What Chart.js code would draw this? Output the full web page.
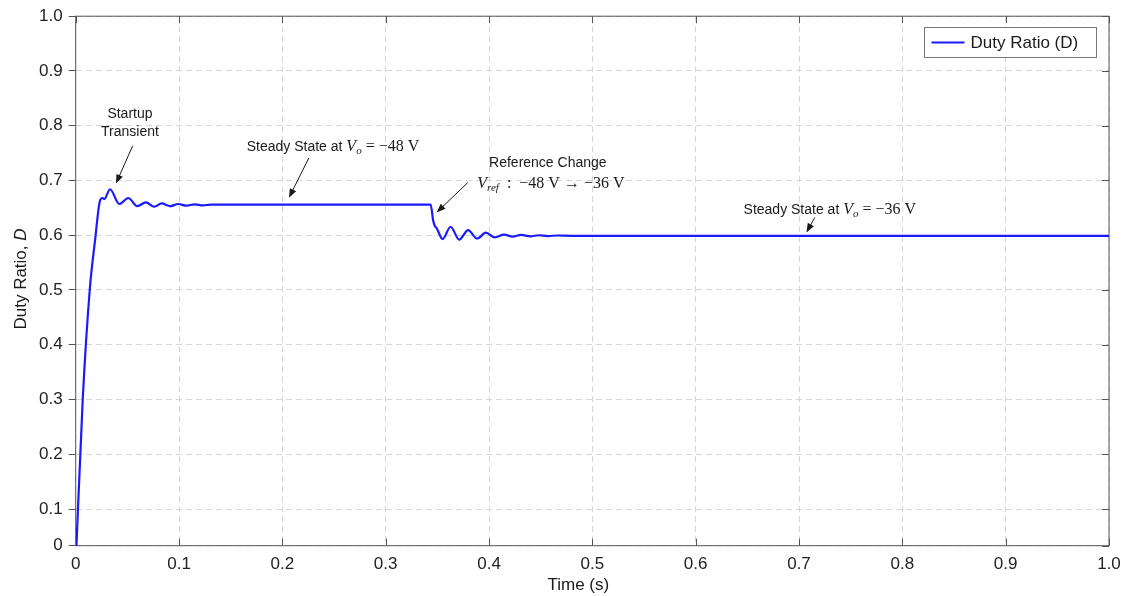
<!DOCTYPE html>
<html>
<head>
<meta charset="utf-8">
<script src="https://cdn.jsdelivr.net/npm/chart.js@4.4.1/dist/chart.umd.min.js"></script>
<style>
html, body { margin: 0; padding: 0; background: #fff; }
#wrap { width: 1131px; height: 596px; position: relative; }
</style>
</head>
<body>
<div id="wrap"><canvas id="duty"></canvas></div>
<script>
// time (s) and duty ratio
var timeS = [0, 0.0068, 0.0138, 0.0187, 0.0235, 0.0261, 0.0277, 0.0332, 0.0422, 0.0509, 0.0596,
  0.068, 0.076, 0.0832, 0.0912, 0.0993, 0.107, 0.115, 0.123, 0.131, 0.14, 0.3435,
  0.346, 0.3476, 0.3493, 0.3551, 0.3628, 0.3711, 0.3798, 0.3885, 0.397, 0.4057, 0.4144,
  0.423, 0.431, 0.44, 0.448, 0.457, 0.466, 0.48, 1.0];
var dutyD = [0, 0.30, 0.505, 0.59, 0.663, 0.668, 0.666, 0.684, 0.657, 0.668, 0.653,
  0.660, 0.652, 0.658, 0.653, 0.657, 0.654, 0.6565, 0.6545, 0.656, 0.656, 0.656,
  0.6265, 0.617, 0.613, 0.593, 0.6155, 0.592, 0.6095, 0.594, 0.6046, 0.596, 0.601,
  0.5975, 0.6005, 0.598, 0.6, 0.5985, 0.5995, 0.599, 0.599];

var xTicks = [0, 0.1, 0.2, 0.3, 0.4, 0.5, 0.6, 0.7, 0.8, 0.9, 1.0];
var yTicks = [0, 0.1, 0.2, 0.3, 0.4, 0.5, 0.6, 0.7, 0.8, 0.9, 1.0];
var yFloor = 0.033; // where the "0" tick sits in the picture

var FONTS = {
  sans: '14px "Liberation Sans", Arial, sans-serif',
  m: '16px "Liberation Serif", serif',
  mi: 'italic 16px "Liberation Serif", serif',
  sub: 'italic 11px "Liberation Serif", serif'
};

// annotations: text centre (t, v) + arrow tail/head in data units
var notes = [
  { t: 0.0525, v: 0.8214, segs: [['Startup', 'sans']] },
  { t: 0.0525, v: 0.7886, segs: [['Transient', 'sans']], arrow: [0.0551, 0.7631, 0.039, 0.6944] },
  { t: 0.249, v: 0.7613, segs: [['Steady State at ', 'sans'], ['V', 'mi'], ['o', 'sub', 4], [' = \u221248 V', 'm']],
    arrow: [0.2257, 0.7413, 0.2064, 0.6684] },
  { t: 0.4569, v: 0.7309, segs: [['Reference Change', 'sans']] },
  { t: 0.4599, v: 0.6933, segs: [['V', 'mi'], ['ref', 'sub', 4], ['  :  \u221248 V \u2192 \u221236 V', 'm']],
    arrow: [0.3795, 0.6962, 0.3493, 0.6416] },
  { t: 0.7298, v: 0.6465, segs: [['Steady State at ', 'sans'], ['V', 'mi'], ['o', 'sub', 4], [' = \u221236 V', 'm']],
    arrow: [0.7153, 0.6325, 0.7072, 0.6051] }
];

function drawRich(ctx, segs, cx, cy) {
  var w = 0;
  segs.forEach(function (s) { ctx.font = FONTS[s[1]]; w += ctx.measureText(s[0]).width; });
  var x = cx - w / 2;
  ctx.textAlign = 'left';
  ctx.textBaseline = 'middle';
  segs.forEach(function (s) {
    ctx.font = FONTS[s[1]];
    ctx.fillText(s[0], x, cy + (s[2] || 0));
    x += ctx.measureText(s[0]).width;
  });
}

function drawArrow(ctx, x1, y1, x2, y2) {
  var a = Math.atan2(y2 - y1, x2 - x1), L = 9, W = 3.5;
  ctx.beginPath();
  ctx.moveTo(x1, y1);
  ctx.lineTo(x2 - L * 0.7 * Math.cos(a), y2 - L * 0.7 * Math.sin(a));
  ctx.stroke();
  ctx.beginPath();
  ctx.moveTo(x2, y2);
  ctx.lineTo(x2 - L * Math.cos(a) + W * Math.sin(a), y2 - L * Math.sin(a) - W * Math.cos(a));
  ctx.lineTo(x2 - L * Math.cos(a) - W * Math.sin(a), y2 - L * Math.sin(a) + W * Math.cos(a));
  ctx.closePath();
  ctx.fill();
}

var frame = {
  id: 'frame',
  beforeDatasetsDraw: function (chart) {
    var ctx = chart.ctx, a = chart.chartArea, xs = chart.scales.x, ys = chart.scales.y;
    ctx.save();
    ctx.strokeStyle = '#555';
    ctx.lineWidth = 1;
    ctx.strokeRect(a.left, a.top, a.right - a.left, a.bottom - a.top);
    ctx.beginPath();
    xTicks.forEach(function (t) {
      var px = Math.round(xs.getPixelForValue(t)) + 0.5;
      ctx.moveTo(px, a.bottom); ctx.lineTo(px, a.bottom - 7);
      ctx.moveTo(px, a.top); ctx.lineTo(px, a.top + 7);
    });
    yTicks.forEach(function (v) {
      var py = Math.round(ys.getPixelForValue(Math.max(v, yFloor))) + 0.5;
      ctx.moveTo(a.right, py); ctx.lineTo(a.right - 7, py);
    });
    ctx.stroke();
    ctx.restore();
  },
  afterDraw: function (chart) {
    var ctx = chart.ctx, a = chart.chartArea, xs = chart.scales.x, ys = chart.scales.y;
    ctx.save();
    ctx.fillStyle = '#1a1a1a';
    ctx.strokeStyle = '#1a1a1a';
    ctx.lineWidth = 1;
    notes.forEach(function (n) {
      drawRich(ctx, n.segs, xs.getPixelForValue(n.t), ys.getPixelForValue(n.v));
      if (n.arrow) {
        drawArrow(ctx, xs.getPixelForValue(n.arrow[0]), ys.getPixelForValue(n.arrow[1]),
          xs.getPixelForValue(n.arrow[2]), ys.getPixelForValue(n.arrow[3]));
      }
    });

    // axis titles
    ctx.fillStyle = '#1a1a1a';
    ctx.font = '17px "Liberation Sans", Arial, sans-serif';
    ctx.textAlign = 'center';
    ctx.textBaseline = 'middle';
    ctx.fillText('Time (s)', (a.left + a.right) / 2 - 14, 585);
    ctx.save();
    ctx.translate(21, 279);
    ctx.rotate(-Math.PI / 2);
    ctx.font = '17px "Liberation Sans", Arial, sans-serif';
    var w1 = ctx.measureText('Duty Ratio, ').width;
    ctx.font = 'italic 17px "Liberation Sans", Arial, sans-serif';
    var w2 = ctx.measureText('D').width;
    ctx.textAlign = 'left';
    ctx.font = '17px "Liberation Sans", Arial, sans-serif';
    ctx.fillText('Duty Ratio, ', -(w1 + w2) / 2, 0);
    ctx.font = 'italic 17px "Liberation Sans", Arial, sans-serif';
    ctx.fillText('D', -(w1 + w2) / 2 + w1, 0);
    ctx.restore();

    // legend box
    var ds = chart.data.datasets[0];
    var bx = 924.5, by = 27.5, bw = 172, bh = 30;
    ctx.fillStyle = '#fff';
    ctx.fillRect(bx, by, bw, bh);
    ctx.strokeStyle = '#777';
    ctx.strokeRect(bx, by, bw, bh);
    ctx.strokeStyle = ds.borderColor;
    ctx.lineWidth = 2.2;
    ctx.beginPath();
    ctx.moveTo(bx + 7, by + bh / 2);
    ctx.lineTo(bx + 40, by + bh / 2);
    ctx.stroke();
    ctx.fillStyle = '#1a1a1a';
    ctx.font = '17px "Liberation Sans", Arial, sans-serif';
    ctx.textAlign = 'left';
    ctx.fillText(ds.label, bx + 46, by + bh / 2 + 1);
    ctx.restore();
  }
};

var dutyChart = new Chart(document.getElementById('duty'), {
  type: 'line',
  data: {
    datasets: [{
      label: 'Duty Ratio (D)',
      data: timeS.map(function (t, i) { return { x: t, y: dutyD[i] }; }),
      borderColor: '#1a1aff',
      borderWidth: 2.2,
      pointRadius: 0,
      fill: false,
      cubicInterpolationMode: 'monotone'
    }]
  },
  options: {
    responsive: true,
    maintainAspectRatio: false,
    animation: false,
    layout: { padding: { top: 15, right: 22, left: 0, bottom: 0 } },
    plugins: {
      legend: { display: false },
      tooltip: { enabled: false }
    },
    scales: {
      x: {
        type: 'linear',
        min: 0,
        max: 1,
        afterFit: function (s) { s.height = 50.3; },
        afterBuildTicks: function (s) { s.ticks = xTicks.map(function (v) { return { value: v }; }); },
        ticks: {
          autoSkip: false,
          maxRotation: 0,
          padding: 8,
          color: '#222',
          font: { family: '"Liberation Sans", Arial, sans-serif', size: 17 },
          callback: function (v) { return v === 0 ? '0' : v.toFixed(1); }
        },
        grid: { color: '#d6d6d6', drawTicks: false },
        border: { display: false, dash: [6, 4] }
      },
      y: {
        type: 'linear',
        min: yFloor,
        max: 1,
        afterFit: function (s) { s.width = 75.7; },
        afterBuildTicks: function (s) { s.ticks = yTicks.map(function (v) { return { value: Math.max(v, yFloor) }; }); },
        ticks: {
          padding: 6,
          color: '#222',
          font: { family: '"Liberation Sans", Arial, sans-serif', size: 17 },
          callback: function (v) { return v <= yFloor + 1e-9 ? '0' : v.toFixed(1); }
        },
        grid: { color: '#d6d6d6', tickLength: 7, tickColor: '#555' },
        border: { display: false, dash: [6, 4] }
      }
    }
  },
  plugins: [frame]
});
</script>
</body>
</html>
